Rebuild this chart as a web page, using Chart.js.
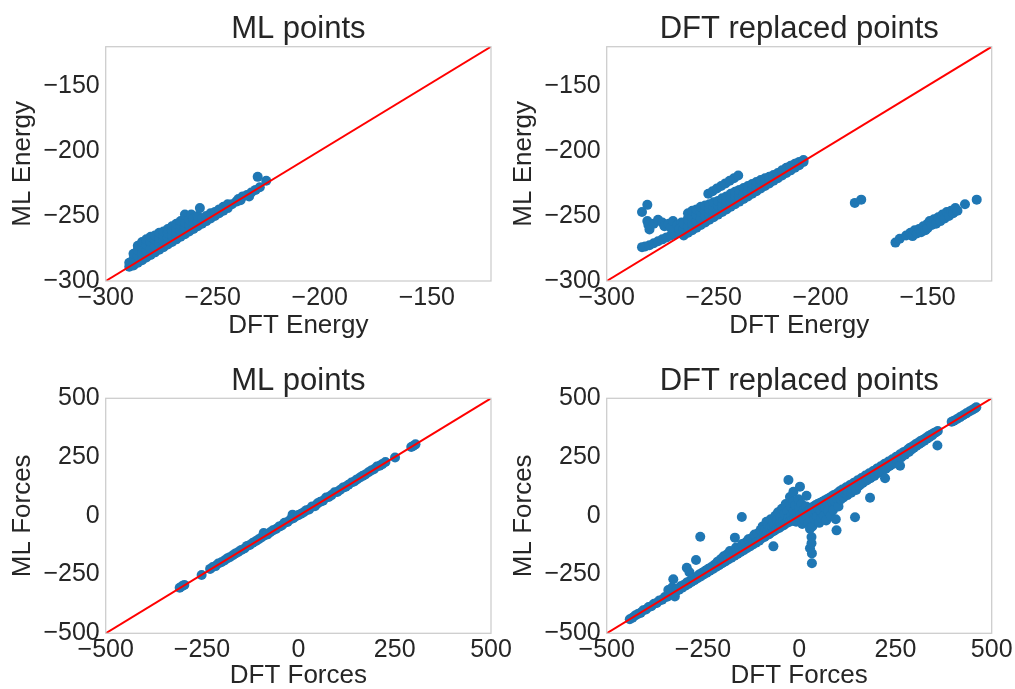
<!DOCTYPE html>
<html>
<head>
<meta charset="utf-8">
<title>ML vs DFT</title>
<script src="https://cdn.jsdelivr.net/npm/chart.js@4.4.0/dist/chart.umd.min.js"></script>
<style>
    body { margin: 0; background: #fff; overflow: hidden; }
    canvas { position: absolute; left: 0; top: 0; }
</style>
</head>
<body>
<canvas id="energyMl" width="1100" height="689"></canvas>
<canvas id="energyDft" width="1100" height="689"></canvas>
<canvas id="forcesMl" width="1100" height="689"></canvas>
<canvas id="forcesDft" width="1100" height="689"></canvas>
<script>
// axis limits and tick labels
const energyRange = [-300, -120];
const energyTicks = [-300, -250, -200, -150];
const forcesRange = [-500, 500];
const forcesTicks = [-500, -250, 0, 250, 500];

// points are [DFT value, ML value]
const energyMlPoints = [
    [-289,-289],[-289,-286],
    [-287,-288],[-287,-283],[-287,-279],
    [-285,-286],[-285,-281],[-285,-276],[-285,-273],
    [-283,-284],[-283,-279],[-283,-274],[-283,-270],
    [-281,-282],[-281,-277],[-281,-272],[-281,-268],
    [-279,-280],[-279,-275],[-279,-270],[-279,-266],
    [-277,-278],[-277,-273],[-277,-268],[-277,-265],
    [-275,-276],[-275,-271],[-275,-267],[-275,-263],
    [-273,-274],[-273,-269],[-273,-265],[-273,-262],
    [-271,-272],[-271,-267],[-271,-263],[-271,-260],
    [-269,-270],[-269,-265],[-269,-261],[-269,-258],
    [-267,-268],[-267,-263],[-267,-259],[-267,-256],
    [-265,-266],[-265,-261],[-265,-257],[-265,-254],
    [-263,-264],[-263,-259],[-263,-255],[-263,-249],
    [-261,-262],[-261,-257],[-261,-253],[-260,-249],
    [-259,-260],[-259,-255],[-259,-252],
    [-257,-258],[-257,-254],[-257,-250],[-256,-244],
    [-255,-256],[-255,-252],[-253,-254],[-253,-250],
    [-251,-252],[-251,-248],[-249,-250],[-249,-247],
    [-247,-248],[-247,-245],[-245,-246],[-245,-243],
    [-243,-244],[-243,-241],[-241,-241],[-239,-239],
    [-238,-237],[-237,-238],[-236,-235],[-234,-234],
    [-233,-235],[-232,-232],[-230,-230],[-229,-220],
    [-228,-228],[-225,-223]
];

const energyDftPoints = [
    [-283.5,-274],[-282,-273.5],[-280,-272.5],[-278,-271],[-276,-269.5],
    [-274,-268],[-272,-266.5],[-270,-265],[-268,-264],[-266,-263],
    [-283.5,-247],[-281,-241.5],
    [-281,-254],[-280.5,-257],[-280,-260.5],[-278,-256],[-276,-253],
    [-274,-255],[-273,-258],[-271,-256],[-270,-259],[-269,-254],
    [-267,-257],[-266,-260],[-265,-255],[-263,-256],[-262,-252],
    [-264,-265],[-264,-260],[-264,-256],
    [-262,-263],[-262,-258],[-262,-253],[-262,-248],
    [-260,-261],[-260,-256],[-260,-251],[-260,-246],
    [-258,-259],[-258,-254],[-258,-249],[-258,-245],
    [-256,-257],[-256,-252],[-256,-247],[-256,-243],
    [-254,-255],[-254,-250],[-254,-246],[-254,-242],
    [-252,-253],[-252,-249],[-252,-245],[-252,-241],
    [-250,-251],[-250,-247],[-250,-243],[-250,-239.5],
    [-248,-249],[-248,-245],[-248,-242],[-248,-238.5],
    [-246,-247],[-246,-243],[-246,-240],[-246,-236.5],
    [-244,-245],[-244,-241],[-244,-238],[-244,-235],
    [-242,-243],[-242,-239],[-242,-236],[-242,-233],
    [-240,-241],[-240,-237],[-240,-234],[-240,-231.5],
    [-238,-239],[-238,-235],[-238,-232],[-238,-230],
    [-236,-237],[-236,-233],[-236,-228.5],
    [-234,-235],[-234,-231],[-234,-227],
    [-232,-233],[-232,-229],[-232,-225.5],
    [-230,-231],[-230,-227],[-230,-224],
    [-228,-229],[-228,-225.5],[-228,-222.5],
    [-226,-227],[-226,-224],[-226,-221],
    [-224,-225],[-224,-222],[-224,-220],
    [-222,-223],[-222,-220],[-222,-218.5],
    [-220,-221],[-220,-217],[-218,-219],[-218,-215],
    [-216,-217],[-216,-213],[-214,-215],[-214,-211.5],
    [-212,-213],[-212,-210],[-210,-211],[-210,-208.5],
    [-208,-208.5],[-208,-207],
    [-252.5,-233],[-250.5,-231],[-248.5,-229],[-246.5,-227],
    [-244.5,-225],[-242.5,-223],[-240.5,-221],[-238.5,-219],
    [-184,-240],[-181,-237.5],
    [-165,-270.5],[-163,-267.5],[-160,-265],[-158,-263],[-157,-265.5],
    [-156,-261],[-155,-263.5],[-154,-260],[-153,-262.5],[-152,-258],
    [-151,-261],[-150,-256],[-150,-259.5],[-149,-254],[-148,-257],
    [-147,-252.5],[-146,-256],[-145,-251],[-144,-254],[-143,-249],
    [-142,-252],[-141,-247],[-140,-250],[-139,-246],[-138,-248],
    [-137,-244],[-136,-246],[-132.5,-241],[-127,-237.5]
];

const forcesMlPoints = [
    [-308,-306],[-302,-300],[-296,-294],[-251,-252],[-229,-226],[-222,-218],
    [-215,-214],[-208,-203],[-200,-198],[-192,-190],[-185,-182],[-178,-176],
    [-170,-168],[-163,-160],[-156,-154],[-148,-145],[-140,-139],[-133,-128],
    [-126,-124],[-118,-115],[-110,-107],[-103,-100],[-96,-92],[-90,-73],
    [-88,-84],[-80,-79],[-73,-70],[-66,-62],[-58,-56],[-50,-46],[-43,-41],
    [-36,-30],[-28,-26],[-20,-15],[-13,-10],[-6,-2],[-15,5],[0,3],[7,9],
    [14,15],[21,24],[28,27],[36,40],[43,41],[50,53],[57,60],[64,64],[72,78],
    [79,80],[86,88],[94,100],[101,101],[108,110],[116,120],[123,124],[130,132],
    [138,142],[145,146],[152,155],[160,163],[167,170],[174,176],[182,185],
    [189,193],[196,198],[204,210],[211,213],[218,220],[226,229],[251,248],
    [293,293],[298,297],[304,304]
];

const forcesDftPoints = [
    [-440,-440],[-433,-434],[-426,-424],[-419,-418],[-412,-413],[-405,-402],
    [-398,-399],[-391,-388],[-384,-385],[-377,-374],[-370,-371],[-363,-360],
    [-356,-357],[-349,-346],[-343,-344],[-337,-332],
    [-340,-316],[-333,-320],[-330,-305],[-327,-270],[-323,-343],[-320,-322],
    [-316,-310],[-312,-314],[-308,-300],[-304,-306],[-300,-294],[-296,-298],
    [-292,-221],[-292,-284],[-288,-290],[-285,-240],[-284,-278],[-280,-282],
    [-276,-268],[-272,-274],[-268,-188],[-268,-262],[-264,-266],[-260,-250],
    [-257,-89],[-256,-258],[-252,-242],[-248,-250],[-244,-234],[-240,-242],
    [-236,-225],[-232,-234],[-228,-218],[-224,-226],[-220,-208],[-216,-218],
    [-212,-195],[-208,-210],[-204,-185],[-200,-202],
    [-196,-172],[-192,-194],[-188,-165],[-184,-186],[-180,-150],[-176,-178],
    [-172,-158],[-168,-170],[-167,-93],[-164,-135],[-160,-162],[-156,-140],
    [-152,-154],[-149,-5],[-148,-120],[-144,-146],[-140,-115],[-136,-138],
    [-132,-100],[-128,-130],[-124,-95],[-120,-122],[-116,-80],[-112,-114],
    [-108,-75],[-104,-106],
    [-100,-60],[-98,-96],[-95,-45],[-92,-78],[-90,-90],[-88,-55],[-85,-25],
    [-84,-82],[-82,-65],[-80,-40],[-78,-78],[-76,-55],[-74,-15],[-72,-70],
    [-70,-45],[-68,-28],[-67,-130],[-66,-64],[-64,-40],[-62,0],[-60,-58],
    [-58,-18],[-56,-50],[-55,15],[-52,-52],[-50,-30],[-48,-5],[-46,-44],
    [-45,30],[-42,-22],[-40,-40],[-38,8],[-36,-32],[-35,50],[-32,-30],
    [-30,20],[-28,152],[-28,-12],[-25,-25],[-24,80],[-22,40],[-20,0],
    [-18,-18],[-16,60],[-15,102],[-14,20],[-12,-12],[-10,45],[-8,-25],
    [-6,10],[-4,-5],[-2,70],[0,30],[2,124],[2,-10],[4,5],[6,50],[8,-35],
    [10,10],[12,25],[14,-20],[16,15],[18,40],[19,85],[20,-5],[22,20],
    [24,-30],[26,25],[28,-55],[28,-138],[30,30],[32,-90],[32,-117],
    [33,-160],[33,-202],[34,-45],[34,35],[36,10],[38,40],[40,-15],[42,45],
    [44,20],[46,-5],[48,50],[50,30],[52,-30],[54,55],[56,20],[58,-10],
    [60,60],[62,40],[64,0],[66,65],[68,35],[70,-20],[72,70],[74,50],
    [76,20],[78,76],[80,45],[82,0],[84,82],[86,58],[88,25],[90,88],
    [92,62],[95,-15],[97,-62],[98,95],[100,70],[102,40],
    [105,104],[108,70],[112,112],[115,78],[118,96],[122,121],[125,88],
    [128,100],[132,131],[135,98],[138,112],[142,141],[145,-6],[145,118],
    [148,110],[152,151],[155,128],[158,132],[162,161],[165,140],[168,146],
    [172,171],[175,150],[178,155],[182,181],[184,77],[185,160],[188,165],
    [192,191],[195,170],[198,176],[202,201],[205,182],[208,186],[212,211],
    [215,190],[218,196],[222,221],[223,160],[225,200],[228,206],[232,231],
    [235,212],[238,217],[242,241],[245,222],[248,228],[252,251],[255,232],
    [258,238],[262,213],[262,262],[265,248],[268,256],[272,272],[275,260],
    [278,270],[282,282],[285,272],[288,290],[292,282],[295,296],[298,290],
    [302,304],[305,298],[308,310],[312,306],[315,318],[318,312],[322,324],
    [325,320],[328,330],[332,328],[335,338],[338,334],[342,345],[345,342],
    [348,350],[352,352],[355,356],[359,299],[360,361],
    [396,400],[402,405],[410,412],[418,420],[426,428],[434,436],[442,444],
    [449,450],[456,457],[460,462]
];

const FONT = 'Liberation Sans, Arial, sans-serif';
const TEXT = '#262626';
const CANVAS_W = 1100, CANVAS_H = 689;

Chart.defaults.font.family = FONT;
Chart.defaults.color = TEXT;

// light grey frame round each plot area, on top of the points like the spines
const frame = {
    id: 'frame',
    afterDatasetsDraw(chart) {
        const a = chart.chartArea;
        const ctx = chart.ctx;
        ctx.save();
        ctx.strokeStyle = '#cccccc';
        ctx.lineWidth = 1.25;
        ctx.strokeRect(a.left, a.top, a.right - a.left, a.bottom - a.top);
        ctx.restore();
    }
};

function tickText(v) {
    return v < 0 ? '\u2212' + Math.abs(v) : String(v);
}

// area = plot box in page pixels, labelGap = distance from plot bottom to x title centre
function panel(id, title, xTitle, yTitle, points, range, ticks, area, labelGap) {
    const yWidth = 105.7;
    const xHeight = Math.min(64, CANVAS_H - area.bottom);
    const axis = (label, isX) => ({
        type: 'linear',
        min: range[0],
        max: range[1],
        grid: { display: false, drawTicks: false },
        border: { display: false },
        afterBuildTicks: s => { s.ticks = ticks.map(v => ({ value: v })); },
        afterFit: s => { if (isX) s.height = xHeight; else s.width = yWidth; },
        ticks: {
            font: { size: 25 },
            color: TEXT,
            padding: isX ? 2 : 6,
            maxRotation: 0,
            autoSkip: false,
            callback: tickText
        },
        title: {
            display: true,
            text: label,
            color: TEXT,
            font: { size: 26, lineHeight: 1 },
            padding: isX ? { top: 0, bottom: Math.max(0, xHeight - 13 - labelGap) } : { top: 10, bottom: 0 }
        }
    });

    new Chart(document.getElementById(id), {
        data: {
            datasets: [{
                type: 'line',
                data: [{ x: range[0], y: range[0] }, { x: range[1], y: range[1] }],
                borderColor: '#ff0000',
                borderWidth: 2,
                pointRadius: 0,
                order: 0
            }, {
                type: 'scatter',
                data: points.map(p => ({ x: p[0], y: p[1] })),
                backgroundColor: '#1f77b4',
                borderWidth: 0,
                pointRadius: 5,
                pointHoverRadius: 5,
                order: 1
            }]
        },
        options: {
            responsive: false,
            animation: false,
            layout: {
                padding: {
                    left: area.left - yWidth,
                    right: CANVAS_W - area.right,
                    top: area.top - 32.6,
                    bottom: CANVAS_H - area.bottom - xHeight
                }
            },
            scales: { x: axis(xTitle, true), y: axis(yTitle, false) },
            plugins: {
                legend: { display: false },
                tooltip: { enabled: false },
                title: {
                    display: true,
                    text: title,
                    color: TEXT,
                    fullSize: false,
                    font: { size: 31, weight: 'normal', lineHeight: 1 },
                    padding: { top: 0, bottom: 1.6 }
                }
            }
        },
        plugins: [frame]
    });
}

panel('energyMl', 'ML points', 'DFT Energy', 'ML Energy', energyMlPoints, energyRange, energyTicks,
    { left: 105.7, right: 491, top: 46.7, bottom: 281 }, 45);
panel('energyDft', 'DFT replaced points', 'DFT Energy', 'ML Energy', energyDftPoints, energyRange, energyTicks,
    { left: 606.7, right: 991.7, top: 46.7, bottom: 281 }, 45);
panel('forcesMl', 'ML points', 'DFT Forces', 'ML Forces', forcesMlPoints, forcesRange, forcesTicks,
    { left: 105.7, right: 491, top: 398.3, bottom: 633.3 }, 43);
panel('forcesDft', 'DFT replaced points', 'DFT Forces', 'ML Forces', forcesDftPoints, forcesRange, forcesTicks,
    { left: 606.7, right: 991.7, top: 398.3, bottom: 633.3 }, 43);
</script>
</body>
</html>
